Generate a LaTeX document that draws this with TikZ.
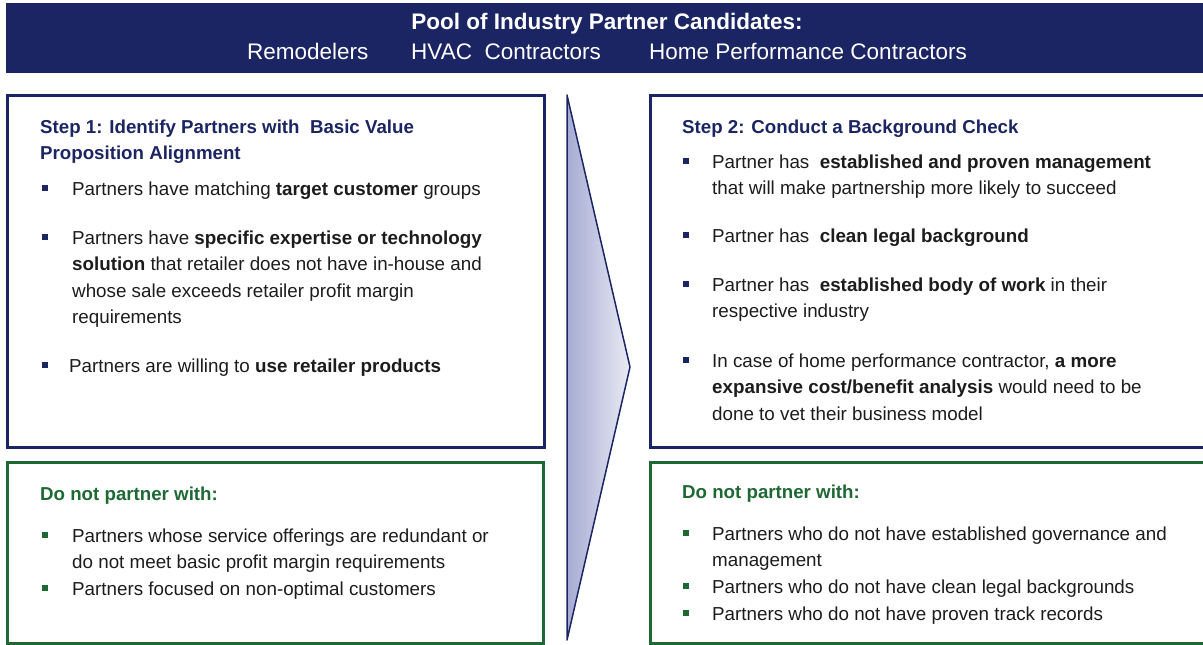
\documentclass[tikz,border=0pt]{standalone}
\usepackage{fontspec}
\setmainfont{Liberation Sans}
\usetikzlibrary{positioning}

\definecolor{navy}{RGB}{27,37,99}
\definecolor{leafgreen}{RGB}{30,104,52}
\definecolor{bodygray}{RGB}{28,28,28}
\definecolor{arrowdark}{RGB}{166,171,211}
\definecolor{arrowlight}{RGB}{234,235,244}

\begin{document}
\begin{tikzpicture}[x=1pt,y=-1pt,
    stepbox/.style={draw=navy,line width=3pt},
    avoidbox/.style={draw=leafgreen,line width=3pt},
    hdrtxt/.style={text=white,font=\fontsize{22.5}{26}\selectfont,anchor=base west,inner sep=0pt},
    steptitle/.style={text=navy,font=\bfseries\fontsize{18.7}{26.5}\selectfont,anchor=base west,inner sep=0pt,align=left},
    avoidtitle/.style={text=leafgreen,font=\bfseries\fontsize{18.7}{26.5}\selectfont,anchor=base west,inner sep=0pt},
    itemtxt/.style={text=bodygray,font=\fontsize{18.8}{26.5}\selectfont,anchor=base west,inner sep=0pt,align=left},
    bluebullet/.style={fill=navy,minimum size=6.5pt,inner sep=0pt},
    greenbullet/.style={fill=leafgreen,minimum size=6.5pt,inner sep=0pt}
  ]
  \useasboundingbox (0,0) rectangle (1203,645);

  % Header band
  \fill[navy] (6,3) rectangle (1210,73);
  \node[hdrtxt,font=\bfseries\fontsize{22.5}{26}\selectfont,anchor=base] (pool) at (607,30) {Pool of Industry Partner Candidates:};
  \node[hdrtxt] (remod) at (247,59) {Remodelers};
  \node[hdrtxt] (hvac) at (411,59) {HVAC\ \ Contractors};
  \node[hdrtxt] (homeperf) at (649,59) {Home Performance Contractors};

  % Boxes
  \draw[stepbox] (7,95) rectangle (544,447);
  \draw[avoidbox] (7,462) rectangle (543,643);
  \draw[stepbox] (650,95) rectangle (1212,447);
  \draw[avoidbox] (650,462) rectangle (1212,643);

  % Chevron
  \shade[left color=arrowdark,right color=arrowlight] (567,95) -- (630,367) -- (567,640) -- cycle;
  \draw[navy,line width=1.5pt,line join=round] (567,95) -- (630,367) -- (567,640) -- cycle;

  % Step 1 (multi-line nodes sit on their last baseline)
  \node[steptitle] (stepone) at (40,159.5) {Step 1: Identify Partners with\ \ Basic Value\\Proposition Alignment};
  \node[bluebullet] (b11) at (45,188) {};
  \node[itemtxt] (s11) at (72,195) {Partners have matching \textbf{target customer} groups};
  \node[bluebullet] (b12) at (45,237) {};
  \node[itemtxt] (s12) at (72,323.5) {Partners have \textbf{specific expertise or technology}\\\textbf{solution} that retailer does not have in-house and\\whose sale exceeds retailer profit margin\\requirements};
  \node[bluebullet] (b13) at (45,365) {};
  \node[itemtxt] (s13) at (69,372) {Partners are willing to \textbf{use retailer products}};

  % Avoid 1
  \node[avoidtitle] (avoidone) at (40,500) {Do not partner with:};
  \node[greenbullet] (g11) at (45,535) {};
  \node[itemtxt] (a11) at (72,568.5) {Partners whose service offerings are redundant or\\do not meet basic profit margin requirements};
  \node[greenbullet] (g12) at (45,588) {};
  \node[itemtxt] (a12) at (72,595) {Partners focused on non-optimal customers};

  % Step 2
  \node[steptitle] (steptwo) at (682,133) {Step 2: Conduct a Background Check};
  \node[bluebullet] (b21) at (686,161) {};
  \node[itemtxt] (s21) at (712,194.5) {Partner has\ \ \textbf{established and proven management}\\that will make partnership more likely to succeed};
  \node[bluebullet] (b22) at (686,235) {};
  \node[itemtxt] (s22) at (712,242) {Partner has\ \ \textbf{clean legal background}};
  \node[bluebullet] (b23) at (686,284) {};
  \node[itemtxt] (s23) at (712,317.5) {Partner has\ \ \textbf{established body of work} in their\\respective industry};
  \node[bluebullet] (b24) at (686,360) {};
  \node[itemtxt] (s24) at (712,420) {In case of home performance contractor, \textbf{a more}\\\textbf{expansive cost/benefit analysis} would need to be\\done to vet their business model};

  % Avoid 2
  \node[avoidtitle] (avoidtwo) at (682,498) {Do not partner with:};
  \node[greenbullet] (g21) at (686,533) {};
  \node[itemtxt] (a21) at (712,566.5) {Partners who do not have established governance and\\management};
  \node[greenbullet] (g22) at (686,586) {};
  \node[itemtxt] (a22) at (712,593) {Partners who do not have clean legal backgrounds};
  \node[greenbullet] (g23) at (686,613) {};
  \node[itemtxt] (a23) at (712,620) {Partners who do not have proven track records};
\end{tikzpicture}
\end{document}
